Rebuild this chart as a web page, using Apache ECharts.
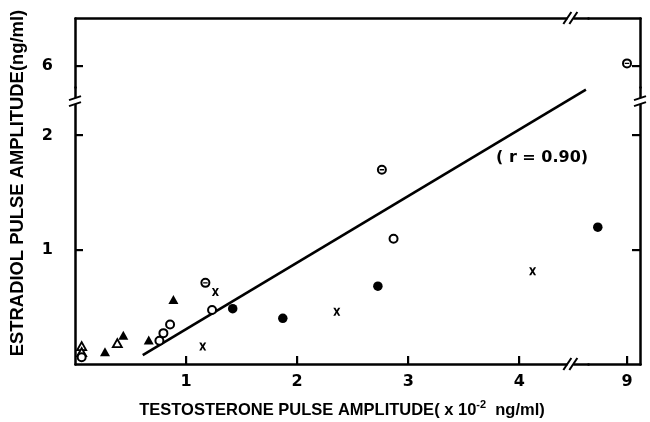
<!DOCTYPE html>
<html><head><meta charset="utf-8">
<script src="https://cdn.jsdelivr.net/npm/echarts@6/dist/echarts.min.js"></script>
<style>html,body{margin:0;padding:0;background:#fff}#c{width:650px;height:422px}</style>
</head><body><div id="c"></div>
<script>
// ---- data ----
const xTickValues = [1, 2, 3, 4, 9];
const yTickValues = [1, 2, 6];
const xExtent = [0, 9.117];
const yExtent = [0, 6.417];
const xBreak = [4.62, 8.65];
const yBreak = [2.42, 5.81];
const openTriangle   = [[0.06, 0.157], [0.06, 0.104], [0.381, 0.183]];
const filledTriangle = [[0.27, 0.107], [0.435, 0.252], [0.664, 0.209], [0.886, 0.565]];
const openCircle     = [[0.06, 0.06], [0.76, 0.203], [0.796, 0.27], [0.856, 0.345], [1.234, 0.472], [2.868, 1.096]];
const circledDot     = [[1.174, 0.71], [2.763, 1.70], [9.0, 6.02]];
const filledCircle   = [[1.42, 0.484], [1.871, 0.40], [2.727, 0.681], [8.737, 1.197]];
const crossMark      = [[1.264, 0.629], [1.15, 0.154], [2.357, 0.458], [4.12, 0.811]];
const regressionLine = [[0.61, 0.078], [4.6, 2.40]];
const rLabel = '( r = 0.90)';
const xTitle = 'TESTOSTERONE PULSE AMPLITUDE(';
const xTitleMid = ' x 10';
const xTitleSup = '-2';
const xTitleEnd = '  ng/ml)';
const yTitle = 'ESTRADIOL PULSE AMPLITUDE(ng/ml)';

// ---- chart ----
const FONT = '"Liberation Sans", Arial, sans-serif';
const NUMFONT = '"DejaVu Sans", sans-serif';
const chart = echarts.init(document.getElementById('c'), null, {renderer: 'canvas'});
const lineW = 2.5;
const ringPath = 'path://M10,0 A10,10 0 1,1 10,20 A10,10 0 1,1 10,0 Z M10,4 A6,6 0 1,0 10,16 A6,6 0 1,0 10,4 Z M5.5,8.6 H14.5 V11.4 H5.5 Z';
const crossPath = 'path://M0,0 L3,0 L5,3.2 L7,0 L10,0 L6.6,5 L10,10 L7,10 L5,6.8 L3,10 L0,10 L3.4,5 Z';

function valueAxis(extra) {
  return Object.assign({
    type: 'value', splitLine: {show: false}, interval: 1,
    axisLine: {show: true, onZero: false, lineStyle: {color: '#000', width: lineW}},
    axisTick: {show: false},
    breakArea: {show: false}
  }, extra);
}
const xAxisBase = {min: xExtent[0], max: xExtent[1], breaks: [{start: xBreak[0], end: xBreak[1], gap: 0}]};
const yAxisBase = {min: yExtent[0], max: yExtent[1], breaks: [{start: yBreak[0], end: yBreak[1], gap: 0}]};

function scatter(data, symbol, size, style) {
  return {type: 'scatter', data: data, symbol: symbol, symbolSize: size, silent: true,
    itemStyle: Object.assign({color: '#000', opacity: 1}, style || {}), z: 5};
}

const tStyle = {fontSize: 16.5, fontWeight: 'bold', fontFamily: FONT, fill: '#000', lineHeight: 22};
chart.setOption({
  animation: false,
  backgroundColor: '#fff',
  grid: {left: 75, right: 10, top: 18, bottom: 58, containLabel: false, outerBoundsMode: 'none'},
  xAxis: [
    valueAxis(Object.assign({}, xAxisBase, {
      position: 'bottom',
      axisLabel: {show: true, customValues: xTickValues, color: '#000', fontSize: 16, fontWeight: 'bold', fontFamily: NUMFONT, margin: 10}
    })),
    valueAxis(Object.assign({}, xAxisBase, {
      position: 'top', axisLabel: {show: false}
    }))
  ],
  yAxis: [
    valueAxis(Object.assign({}, yAxisBase, {
      position: 'left',
      axisLabel: {show: true, customValues: yTickValues, color: '#000', fontSize: 16, fontWeight: 'bold', fontFamily: NUMFONT, margin: 22}
    })),
    valueAxis(Object.assign({}, yAxisBase, {
      position: 'right', axisLabel: {show: false}
    }))
  ],
  series: [
    {type: 'line', data: regressionLine, symbol: 'none', silent: true,
      lineStyle: {color: '#000', width: 2.6}, z: 3},
    scatter(openTriangle, 'triangle', [9, 8], {color: '#fff', borderColor: '#000', borderWidth: 1.8}),
    scatter(filledTriangle, 'triangle', [10, 9]),
    scatter(openCircle, 'circle', 8, {color: '#fff', borderColor: '#000', borderWidth: 2}),
    scatter(circledDot, ringPath, 10),
    scatter(filledCircle, 'circle', 9.5),
    scatter(crossMark, crossPath, [7, 8])
  ]
});

// ---- inward ticks (placed through the axes' scales), break marks, titles & annotation ----
const px = v => chart.convertToPixel({xAxisIndex: 0}, v);
const py = v => chart.convertToPixel({yAxisIndex: 0}, v);
const gx0 = px(xExtent[0]), gx1 = px(xExtent[1]);
const gy0 = py(yExtent[0]), gy1 = py(yExtent[1]);
const tickLen = 8;
const tickW = 2.2;
const ticks = [].concat(
  xTickValues.map(v => ({type: 'rect', z: 99, shape: {x: Math.round(px(v)) - 1, y: gy0 - tickLen, width: tickW, height: tickLen}, style: {fill: '#000'}})),
  yTickValues.map(v => ({type: 'rect', z: 99, shape: {x: gx0, y: Math.round(py(v)) - 1, width: tickLen, height: tickW}, style: {fill: '#000'}})),
  yTickValues.map(v => ({type: 'rect', z: 99, shape: {x: gx1 - tickLen, y: Math.round(py(v)) - 1, width: tickLen, height: tickW}, style: {fill: '#000'}}))
);
const bx = px(4.46);
const by = py(2.3);
function hBreak(cx, cy) {
  return [
    {type: 'rect', shape: {x: cx - 3, y: cy - 3, width: 6, height: 6}, style: {fill: '#fff'}, z: 100},
    {type: 'line', shape: {x1: cx - 7, y1: cy + 6, x2: cx + 1, y2: cy - 6}, style: {stroke: '#000', lineWidth: 2}, z: 101},
    {type: 'line', shape: {x1: cx - 1, y1: cy + 6, x2: cx + 7, y2: cy - 6}, style: {stroke: '#000', lineWidth: 2}, z: 101}
  ];
}
function vBreak(cx, cy) {
  return [
    {type: 'rect', shape: {x: cx - 3, y: cy - 3, width: 6, height: 6}, style: {fill: '#fff'}, z: 100},
    {type: 'line', shape: {x1: cx - 6, y1: cy - 1, x2: cx + 6, y2: cy - 5}, style: {stroke: '#000', lineWidth: 2}, z: 101},
    {type: 'line', shape: {x1: cx - 6, y1: cy + 5, x2: cx + 6, y2: cy + 1}, style: {stroke: '#000', lineWidth: 2}, z: 101}
  ];
}
chart.setOption({
  graphic: [].concat(
    ticks,
    hBreak(bx, gy0), hBreak(bx, gy1), vBreak(gx0, by), vBreak(gx1, by),
    [{type: 'text', left: 496, top: 150, z: 102,
      style: {text: rLabel, fontSize: 16, fontWeight: 'bold', fontFamily: NUMFONT, fill: '#000'}},
     {type: 'text', x: 18, y: 183, rotation: Math.PI / 2, z: 102,
      style: {text: yTitle, fontSize: 18.4, fontWeight: 'bold', fontFamily: FONT, fill: '#000', align: 'center', verticalAlign: 'middle'}},
     {type: 'text', x: 342, y: 410, z: 102,
      style: {text: '{t|' + xTitle + '}{t|' + xTitleMid + '}{s|' + xTitleSup + '}{t|' + xTitleEnd + '}',
        align: 'center', verticalAlign: 'middle',
        rich: {t: tStyle, s: {fontSize: 11, fontWeight: 'bold', fontFamily: FONT, fill: '#000', lineHeight: 22, verticalAlign: 'top'}}}}]
  )
});
</script>
</body></html>
